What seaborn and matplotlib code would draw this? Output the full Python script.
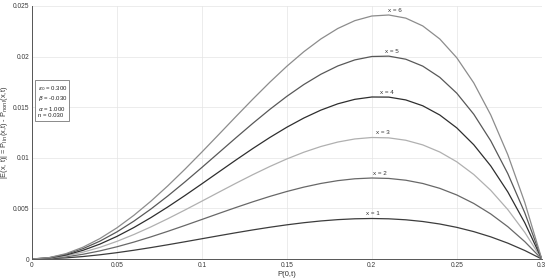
import matplotlib
matplotlib.use("Agg")
import matplotlib.pyplot as plt
import numpy as np
import pandas as pd
import seaborn as sns

# ---- data ----
p_values = [0.00, 0.01, 0.02, 0.03, 0.04, 0.05, 0.06, 0.07, 0.08, 0.09,
            0.10, 0.11, 0.12, 0.13, 0.14, 0.15, 0.16, 0.17, 0.18, 0.19,
            0.20, 0.21, 0.22, 0.23, 0.24, 0.25, 0.26, 0.27, 0.28, 0.29, 0.30]

curve_names = ["x = 1", "x = 2", "x = 3", "x = 4", "x = 5", "x = 6"]

e_x1 = [0, 0.000029, 0.000112, 0.000243, 0.000416, 0.000625, 0.000864, 0.001127,
        0.001408, 0.001701, 0.002000, 0.002299, 0.002592, 0.002873, 0.003136,
        0.003375, 0.003584, 0.003757, 0.003888, 0.003971, 0.004000, 0.003969,
        0.003872, 0.003703, 0.003456, 0.003125, 0.002704, 0.002187, 0.001568,
        0.000841, 0]
e_x2 = [0, 0.000055, 0.000214, 0.000466, 0.000800, 0.001205, 0.001670, 0.002184,
        0.002735, 0.003312, 0.003904, 0.004499, 0.005084, 0.005649, 0.006182,
        0.006669, 0.007099, 0.007460, 0.007739, 0.007923, 0.008000, 0.007957,
        0.007781, 0.007459, 0.006978, 0.006325, 0.005486, 0.004447, 0.003196,
        0.001718, 0]
e_x3 = [0, 0.000079, 0.000307, 0.000670, 0.001152, 0.001740, 0.002418, 0.003170,
        0.003981, 0.004834, 0.005712, 0.006599, 0.007477, 0.008329, 0.009137,
        0.009882, 0.010546, 0.011109, 0.011552, 0.011856, 0.012000, 0.011964,
        0.011728, 0.011269, 0.010567, 0.009600, 0.008346, 0.006781, 0.004885,
        0.002632, 0]
e_x4 = [0, 0.000100, 0.000390, 0.000853, 0.001472, 0.002230, 0.003108, 0.004086,
        0.005145, 0.006265, 0.007424, 0.008600, 0.009771, 0.010913, 0.012002,
        0.013014, 0.013923, 0.014703, 0.015328, 0.015770, 0.016000, 0.015990,
        0.015711, 0.015132, 0.014222, 0.012950, 0.011283, 0.009189, 0.006633,
        0.003582, 0]
e_x5 = [0, 0.000119, 0.000463, 0.001017, 0.001761, 0.002675, 0.003739, 0.004932,
        0.006229, 0.007607, 0.009040, 0.010502, 0.011965, 0.013400, 0.014777,
        0.016065, 0.017232, 0.018244, 0.019067, 0.019664, 0.020000, 0.020036,
        0.019732, 0.019048, 0.017944, 0.016375, 0.014299, 0.011670, 0.008442,
        0.004568, 0]
e_x6 = [0, 0.000134, 0.000527, 0.001161, 0.002017, 0.003075, 0.004313, 0.005707,
        0.007231, 0.008859, 0.010560, 0.012304, 0.014059, 0.015790, 0.017461,
        0.019035, 0.020472, 0.021730, 0.022768, 0.023540, 0.024000, 0.024100,
        0.023790, 0.023018, 0.021731, 0.019875, 0.017392, 0.014224, 0.010311,
        0.005591, 0]

x_ticks = [0, 0.05, 0.1, 0.15, 0.2, 0.25, 0.3]
x_tick_labels = ["0", "0.05", "0.1", "0.15", "0.2", "0.25", "0.3"]
y_ticks = [0, 0.005, 0.01, 0.015, 0.02, 0.025]
y_tick_labels = ["0", "0.005", "0.01", "0.015", "0.02", "0.025"]

param_lines = [r"$\epsilon_0$ = 0.300", r"$\beta$ = -0.030",
               r"$\alpha$ = 1.000", "n = 0.030"]

label_p = [0.2006, 0.2047, 0.2065, 0.2088, 0.2118, 0.2135]

# ---- build long table ----
series = [e_x1, e_x2, e_x3, e_x4, e_x5, e_x6]
rows = []
for name, vals in zip(curve_names, series):
    for p, v in zip(p_values, vals):
        rows.append({"P": p, "E": v, "curve": name})
df = pd.DataFrame(rows)

sns.set_theme(style="whitegrid")
plt.rcParams["font.family"] = ["Liberation Sans", "DejaVu Sans"]
plt.rcParams["mathtext.fontset"] = "dejavusans"

palette = ["#3c3c3c", "#686868", "#b0b0b0", "#2e2e2e", "#585858", "#8c8c8c"]

fig = plt.figure(figsize=(5.5, 2.8), dpi=100)
ax = fig.add_axes([0.058, 0.075, 0.927, 0.904])

sns.lineplot(data=df, x="P", y="E", hue="curve", palette=palette,
             linewidth=0.9, legend=False, ax=ax, sort=True)

ax.set_xlim(0, 0.3)
ax.set_ylim(0, 0.025)
ax.set_xticks(x_ticks)
ax.set_xticklabels(x_tick_labels)
ax.set_yticks(y_ticks)
ax.set_yticklabels(y_tick_labels)
ax.set_facecolor("white")
ax.grid(True, color="#e4e4e4", linewidth=0.5)
for side in ["top", "right"]:
    ax.spines[side].set_visible(False)
for side in ["left", "bottom"]:
    ax.spines[side].set_color("#555555")
    ax.spines[side].set_linewidth(0.7)
ax.tick_params(direction="in", length=3, width=0.6, color="#555555",
               labelsize=4.8, labelcolor="#3a3a3a", pad=2)

ax.set_xlabel("P(0,t)", fontsize=5.5, color="#333333", labelpad=1.5)
ax.set_ylabel(r"|E(x, t)| = P$_{\mathrm{lin}}$(x,t) - P$_{\mathrm{nonl}}$(x,t)",
              fontsize=5.3, color="#333333")
ax.yaxis.set_label_coords(-0.042, 0.5)

# curve labels above peaks
for name, vals, lp in zip(curve_names, series, label_p):
    peak = max(vals)
    ax.annotate(name, xy=(lp, peak), xytext=(0, 1.5), textcoords="offset points",
                ha="center", va="bottom", fontsize=4.5, color="#333333")

# parameter box
ax.text(0.011, 0.69, "\n".join(param_lines), transform=ax.transAxes,
        fontsize=4.3, color="#222222", va="top", ha="left", linespacing=1.2,
        bbox=dict(boxstyle="square,pad=0.35", facecolor="white",
                  edgecolor="#777777", linewidth=0.6))

fig.savefig("out.png", dpi=100)
